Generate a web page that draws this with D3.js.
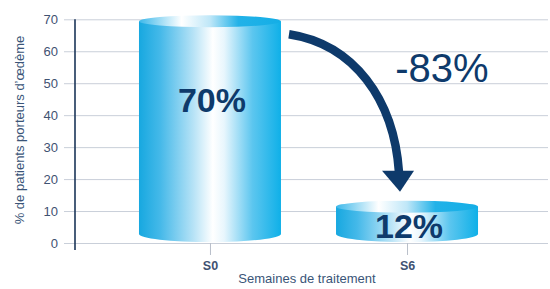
<!DOCTYPE html>
<html>
<head>
<meta charset="utf-8">
<script src="https://cdn.jsdelivr.net/npm/d3@7"></script>
<style>
  body { margin: 0; background: #fff; }
  svg { display: block; font-family: "Liberation Sans", Arial, sans-serif; }
</style>
</head>
<body>
<svg id="chart" width="550" height="289"></svg>
<script>
// data
var weeks = ["S0", "S6"];
var values = [70, 12];
var yTicks = [0, 10, 20, 30, 40, 50, 60, 70];

var width = 550, height = 289;
var svg = d3.select("#chart");

var y = d3.scaleLinear().domain([0, 70]).range([243, 19.3]);
var x = d3.scalePoint().domain(weeks).range([75, 542]).padding(0.685);
var barW = 142;

var navy = "#0e3a6b";

// gradients
var defs = svg.append("defs");
var sideGrad = defs.append("linearGradient").attr("id", "side");
[[0, "#17a8e0"], [0.15, "#45b9e9"], [0.38, "#b5e2f6"], [0.52, "#ffffff"], [0.6, "#e8f6fd"], [0.8, "#5cc6ef"], [1, "#0fb0e8"]]
  .forEach(function(s){ sideGrad.append("stop").attr("offset", s[0]).attr("stop-color", s[1]); });
var topGrad = defs.append("linearGradient").attr("id", "topface");
[[0, "#3cb8ea"], [0.3, "#ffffff"], [0.5, "#bfe7f8"], [0.7, "#22b2e8"], [1, "#14aee6"]]
  .forEach(function(s){ topGrad.append("stop").attr("offset", s[0]).attr("stop-color", s[1]); });

// grid + y axis
var gy = svg.append("g").attr("transform", "translate(64,0)")
  .call(d3.axisLeft(y).tickValues(yTicks).tickSize(-484).tickPadding(6));
gy.select(".domain").remove();
gy.selectAll(".tick line").attr("stroke", "#c9cfd9").attr("stroke-width", 1);
gy.selectAll(".tick text").attr("fill", "#3f5272").attr("font-size", 13)
  .attr("font-family", "Liberation Sans, Arial, sans-serif");

// bottom ticks
var gx = svg.append("g").attr("transform", "translate(0," + y(0) + ")")
  .call(d3.axisBottom(x).tickSize(12).tickPadding(6));
gx.select(".domain").remove();
gx.selectAll(".tick line").attr("stroke", "#b9bfca");
gx.selectAll(".tick text").attr("fill", "#3f5272").attr("font-size", 12.5)
  .attr("font-weight", "bold").attr("font-family", "Liberation Sans, Arial, sans-serif");

// vertical axis line
svg.append("line").attr("x1", 75).attr("x2", 75).attr("y1", y(70)).attr("y2", 250)
  .attr("stroke", "#1b3558").attr("stroke-width", 1.6);

// cylinders
var ry = 6;
var cyl = svg.selectAll(".cyl").data(values).enter().append("g").attr("class", "cyl");
cyl.append("path")
  .attr("d", function(d, i){
    var cx = x(weeks[i]), l = cx - barW / 2, r = cx + barW / 2;
    var t = y(d) + 2, b = y(0) - 9;
    return "M" + l + "," + t + "L" + l + "," + b +
      "A" + barW / 2 + "," + (ry + 2) + " 0 0 0 " + r + "," + b +
      "L" + r + "," + t + "Z";
  })
  .attr("fill", "url(#side)");
cyl.append("ellipse")
  .attr("cx", function(d, i){ return x(weeks[i]); })
  .attr("cy", function(d){ return y(d) + 2; })
  .attr("rx", barW / 2).attr("ry", ry)
  .attr("fill", "url(#topface)");
cyl.append("text")
  .attr("x", function(d, i){ return x(weeks[i]) + 2; })
  .attr("y", function(d, i){ return i === 0 ? 112 : 238; })
  .attr("text-anchor", "middle")
  .attr("font-size", 34).attr("font-weight", "bold").attr("fill", navy)
  .text(function(d){ return d + "%"; });

// arrow
var x0 = x(weeks[0]) + barW / 2 + 8, y0 = y(values[0]) + 15;
var x1 = x(weeks[1]) - 8, y1 = y(values[1]) - 32;
svg.append("path")
  .attr("d", "M" + x0 + "," + y0 + "C" + (x0 + 65) + "," + (y0 + 10) + " " + (x1 - 5) + "," + (y0 + 65) + " " + x1 + "," + y1)
  .attr("fill", "none").attr("stroke", navy).attr("stroke-width", 8.5);
svg.append("path")
  .attr("d", "M" + (x1 - 17) + "," + (y1 - 2) + "L" + (x1 + 15) + "," + (y1 - 2) + "L" + (x1 + 1) + "," + (y1 + 19) + "Z")
  .attr("fill", navy);

var change = Math.round((values[1] - values[0]) / values[0] * 100);
svg.append("text").attr("x", 442).attr("y", 82).attr("text-anchor", "middle")
  .attr("font-size", 40).attr("fill", navy).text(change + "%");

// axis titles
svg.append("text").attr("x", 307).attr("y", 283).attr("text-anchor", "middle")
  .attr("font-size", 13).attr("fill", "#3a5578").text("Semaines de traitement");
svg.append("text").attr("transform", "translate(24,130) rotate(-90)").attr("text-anchor", "middle")
  .attr("font-size", 13).attr("fill", "#3a5578").text("% de patients porteurs d’œdème");
</script>
</body>
</html>
